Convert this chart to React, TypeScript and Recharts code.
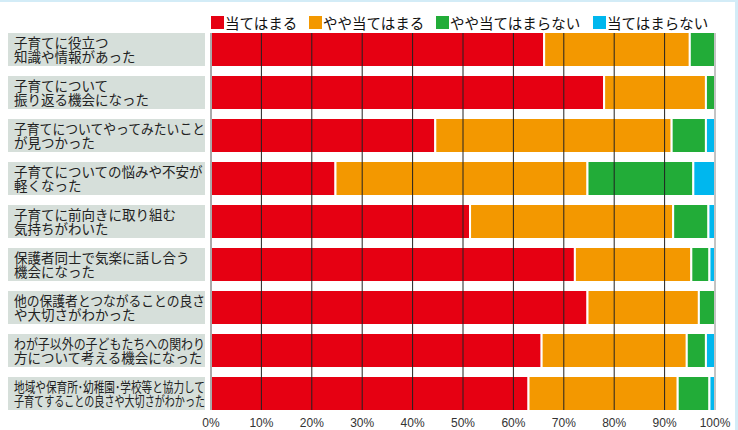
import { BarChart, Bar, XAxis, YAxis, ReferenceLine } from "recharts";

const labels = [
    "子育てに役立つ\n知識や情報があった",
    "子育てについて\n振り返る機会になった",
    "子育てについてやってみたいこと\nが見つかった",
    "子育てについての悩みや不安が\n軽くなった",
    "子育てに前向きに取り組む\n気持ちがわいた",
    "保護者同士で気楽に話し合う\n機会になった",
    "他の保護者とつながることの良さ\nや大切さがわかった",
    "わが子以外の子どもたちへの関わり\n方について考える機会になった",
    "地域や保育所･幼稚園･学校等と協力して\n子育てすることの良さや大切さがわかった",
];

const atehamaru = [66.1, 78.0, 44.5, 24.7, 51.4, 72.2, 74.7, 65.6, 63.0];
const yayaAtehamaru = [28.9, 20.2, 46.9, 50.0, 40.3, 23.1, 22.1, 28.8, 29.6];
const yayaAtehamaranai = [5.0, 1.8, 6.8, 21.0, 7.0, 3.6, 3.2, 3.8, 6.3];
const atehamaranai = [0, 0, 1.8, 4.3, 1.3, 1.1, 0, 1.8, 1.1];

const xTicks = [0, 10, 20, 30, 40, 50, 60, 70, 80, 90, 100];

const series = [
    { key: "a", name: "当てはまる", color: "#e60012", left: 211 },
    { key: "b", name: "やや当てはまる", color: "#f39800", left: 309 },
    { key: "c", name: "やや当てはまらない", color: "#22ac38", left: 436 },
    { key: "d", name: "当てはまらない", color: "#00b7ee", left: 593 },
];

const data = labels.map((label, i) => ({
    label,
    a: atehamaru[i],
    b: yayaAtehamaru[i],
    c: yayaAtehamaranai[i],
    d: atehamaranai[i],
}));

const JP = '"Noto Sans CJK JP", "Noto Sans", sans-serif';

// rough width of a line at 13.5px (half width for the ･ dots)
const lineWidth = (s: string) => [...s].reduce((w, ch) => w + (ch === "･" ? 6.5 : 13.5), 0);

function LabelTick(props: any) {
    const { y, payload } = props;
    const lines = String(payload.value).split("\n");
    return (
        <g>
            <rect x={8} y={y - 16.5} width={197} height={33} fill="#d6dfda" />
            {lines.map((ln, i) => {
                const squeeze = lineWidth(ln) > 191;
                return (
                    <text
                        key={i}
                        x={14}
                        y={y - 2 + i * 14}
                        fontSize={13.5}
                        fill="#222"
                        fontFamily={JP}
                        textLength={squeeze ? 191 : undefined}
                        lengthAdjust={squeeze ? "spacingAndGlyphs" : undefined}
                    >
                        {ln}
                    </text>
                );
            })}
        </g>
    );
}

function PctTick(props: any) {
    const { x, payload } = props;
    return (
        <text x={x} y={427} textAnchor="middle" fontSize={12} fill="#333" fontFamily='"Liberation Sans", Arial, sans-serif'>
            {`${payload.value}%`}
        </text>
    );
}

const gridLine = (stroke: string) => (p: any) => {
    const top = Math.min(p.y1, p.y2) + 5;
    const bottom = Math.max(p.y1, p.y2) - 5;
    return <line x1={p.x1} x2={p.x2} y1={top} y2={bottom} stroke={stroke} strokeWidth={1} />;
};

export default function App() {
    return (
        <div style={{ position: "absolute", left: 0, top: 0, width: 738, height: 430, background: "#fff" }}>
            <div style={{ position: "absolute", left: 0, top: 0, width: 738, height: 2, background: "#d3ecf7" }} />
            <div style={{ position: "absolute", left: 735, top: 0, width: 3, height: 430, background: "#d3ecf7" }} />
            {series.map((s) => (
                <div
                    key={s.key}
                    style={{
                        position: "absolute",
                        left: s.left,
                        top: 14,
                        display: "flex",
                        alignItems: "center",
                        whiteSpace: "nowrap",
                        fontFamily: JP,
                        fontSize: 14.5,
                        color: "#111",
                        lineHeight: "17px",
                    }}
                >
                    <span style={{ width: 13, height: 13, background: s.color, display: "inline-block", marginRight: 1 }} />
                    <span>{s.name}</span>
                </div>
            ))}
            <BarChart
                width={738}
                height={430}
                data={data}
                layout="vertical"
                margin={{ top: 28, right: 23, bottom: 0, left: 0 }}
                style={{ position: "absolute", left: 0, top: 0 }}
            >
                <XAxis
                    type="number"
                    domain={[0, 100]}
                    ticks={xTicks}
                    axisLine={false}
                    tickLine={false}
                    height={15}
                    interval={0}
                    tick={<PctTick />}
                />
                <YAxis
                    type="category"
                    dataKey="label"
                    width={211}
                    axisLine={false}
                    tickLine={false}
                    tick={<LabelTick />}
                    interval={0}
                />
                {series.map((s) => (
                    <Bar
                        key={s.key}
                        dataKey={s.key}
                        name={s.name}
                        stackId="all"
                        fill={s.color}
                        stroke="#fff"
                        strokeWidth={2}
                        barSize={35}
                        isAnimationActive={false}
                    />
                ))}
                {xTicks.map((t) => (
                    <ReferenceLine
                        key={t}
                        x={t}
                        shape={gridLine(t === 0 ? "#555" : t === 100 ? "#888" : "#222")}
                    />
                ))}
            </BarChart>
        </div>
    );
}
